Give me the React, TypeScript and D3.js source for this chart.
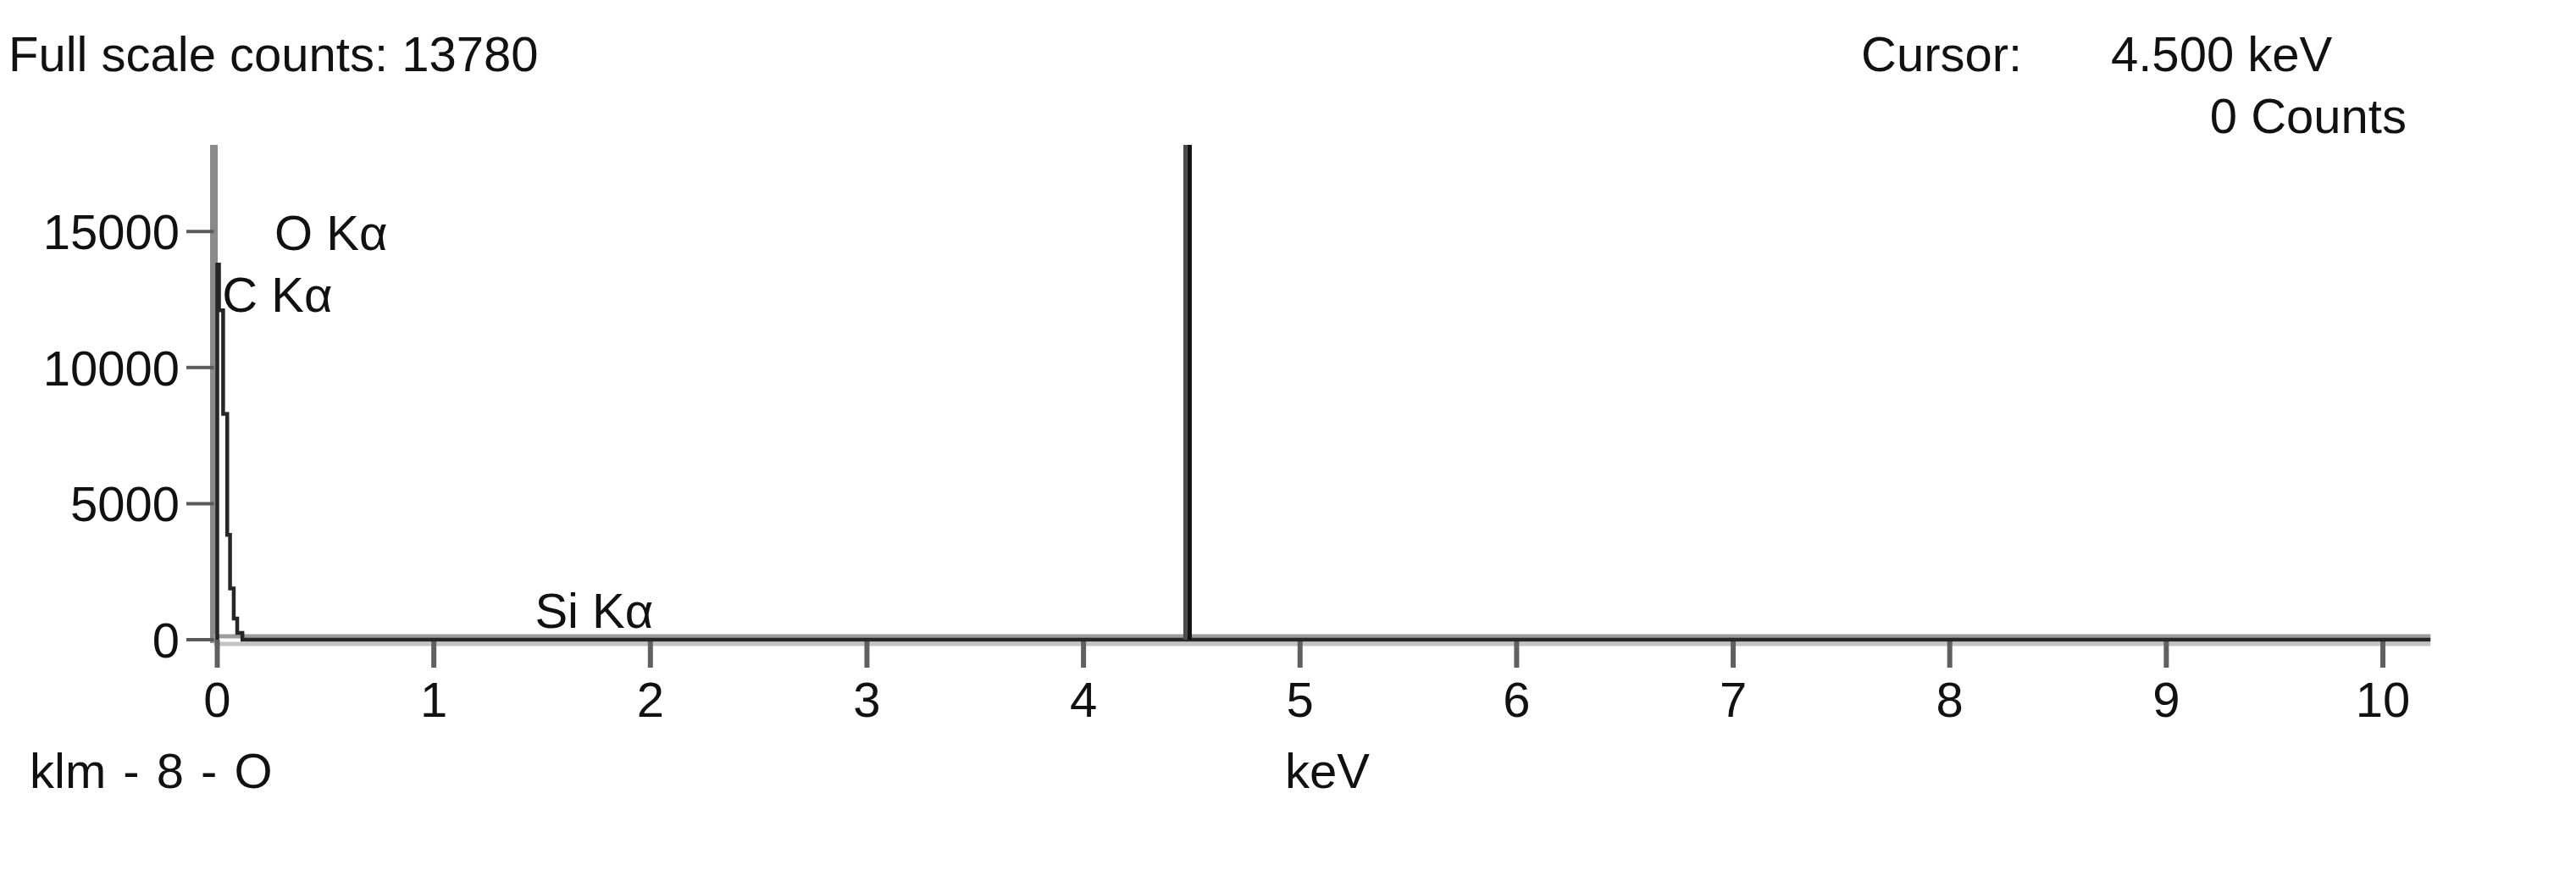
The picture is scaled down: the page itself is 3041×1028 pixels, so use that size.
import React from "react";
import * as d3 from "d3";

// ---- data ----
const X_TICKS = [0, 1, 2, 3, 4, 5, 6, 7, 8, 9, 10];
const Y_TICKS = [0, 5000, 10000, 15000];
const X_MAX_KEV = 10.22;
const Y_MAX_COUNTS = 18180;

// spectrum outline (keV, counts) drawn as a step plot
const SPECTRUM_KEV = [0.0, 0.0, 0.008, 0.027, 0.046, 0.059, 0.076, 0.092, 0.116, 10.22];
const SPECTRUM_COUNTS = [0, 13780, 12100, 8300, 3850, 1880, 780, 250, 0, 0];

const PEAK_NAMES = ["C Kα", "O Kα", "Si Kα"];
const PEAK_KEV = [0.277, 0.525, 1.74];
const PEAK_LABEL_COUNTS = [12050, 14320, 440];

const FULL_SCALE_COUNTS = 13780;
const CURSOR_KEV = 4.5;
const CURSOR_COUNTS = 0;
const SAMPLE_NAME = "klm - 8 - O";
const X_LABEL = "keV";

const W = 3041;
const H = 1028;
const FONT = "'Liberation Sans', Arial, sans-serif";
const FS = 58;

export default function App() {
  const x = d3.scaleLinear().domain([0, 10]).range([256.5, 2813]);
  const y = d3.scaleLinear().domain([0, Y_MAX_COUNTS]).range([755, 171]);

  const pts: [number, number][] = SPECTRUM_KEV.map((k, i) => [k, SPECTRUM_COUNTS[i]]);
  const line = d3
    .line<[number, number]>()
    .x((d) => x(d[0]))
    .y((d) => y(d[1]))
    .curve(d3.curveStepAfter);

  const y0 = y(0);
  const axisLeft = 252.5;
  const xEnd = x(X_MAX_KEV);

  return (
    <svg
      width={W}
      height={H}
      style={{ position: "absolute", left: 0, top: 0, background: "#fff" }}
      fontFamily={FONT}
      fontSize={FS}
    >
      <rect x={0} y={0} width={W} height={H} fill="#fff" />

      {/* header */}
      <text x={10} y={84} fill="#111">
        {`Full scale counts: ${FULL_SCALE_COUNTS}`}
      </text>
      <text x={2197} y={84} fill="#111">
        Cursor:
      </text>
      <text x={2492} y={84} fill="#111">
        {`${CURSOR_KEV.toFixed(3)} keV`}
      </text>
      <text x={2841} y={157} fill="#111" textAnchor="end">
        {`${CURSOR_COUNTS} Counts`}
      </text>

      {/* y axis */}
      <line x1={axisLeft} x2={axisLeft} y1={y(Y_MAX_COUNTS)} y2={y0 + 4} stroke="#8a8a8a" strokeWidth={9} />
      {Y_TICKS.map((t) => (
        <g key={t}>
          <line x1={220} x2={axisLeft} y1={y(t)} y2={y(t)} stroke="#5a5a5a" strokeWidth={4} />
          <text x={212} y={y(t)} dy="0.36em" textAnchor="end" fill="#111">
            {t}
          </text>
        </g>
      ))}

      {/* x axis */}
      <line x1={axisLeft} x2={xEnd} y1={y0 - 4} y2={y0 - 4} stroke="#9c9c9c" strokeWidth={5} />
      <line x1={axisLeft} x2={xEnd} y1={y0 + 5} y2={y0 + 5} stroke="#c3c3c3" strokeWidth={5} />
      {X_TICKS.map((t) => (
        <g key={t}>
          <line x1={x(t)} x2={x(t)} y1={y0} y2={y0 + 33} stroke="#606060" strokeWidth={6} />
          <text x={x(t)} y={846} textAnchor="middle" fill="#111">
            {t}
          </text>
        </g>
      ))}

      {/* spectrum */}
      <path d={line(pts) || ""} fill="none" stroke="#262626" strokeWidth={4.5} />

      {/* cursor */}
      <line x1={x(CURSOR_KEV) - 7.5} x2={x(CURSOR_KEV) - 7.5} y1={y(Y_MAX_COUNTS)} y2={y0} stroke="#4a4a4a" strokeWidth={5} />
      <line x1={x(CURSOR_KEV) - 2.5} x2={x(CURSOR_KEV) - 2.5} y1={y(Y_MAX_COUNTS)} y2={y0} stroke="#111" strokeWidth={5} />

      {/* peak labels */}
      {PEAK_NAMES.map((n, i) => (
        <text key={n} x={x(PEAK_KEV[i])} y={y(PEAK_LABEL_COUNTS[i])} textAnchor="middle" fill="#111">
          {n}
        </text>
      ))}

      {/* bottom labels */}
      <text x={35} y={930} fill="#111" wordSpacing={4}>
        {SAMPLE_NAME}
      </text>
      <text x={1517} y={930} fill="#111">
        {X_LABEL}
      </text>
    </svg>
  );
}
